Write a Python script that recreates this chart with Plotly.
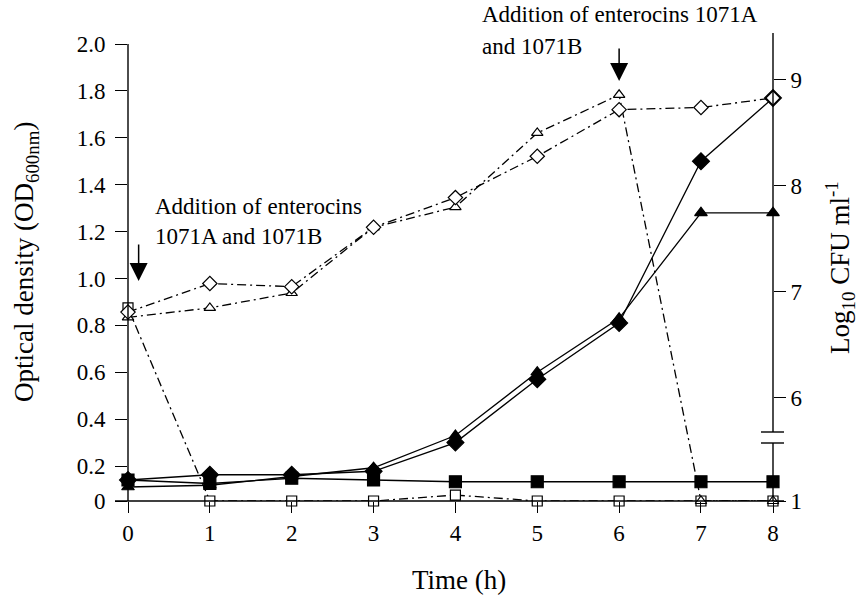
import plotly.graph_objects as go

# ---------------- data ----------------
hours = [0, 1, 2, 3, 4, 5, 6, 7, 8]
x_ticks = [0, 1, 2, 3, 4, 5, 6, 7, 8]

# optical density (left axis, filled symbols, solid lines)
od_control = [0.12, 0.15, 0.15, 0.17, 0.30, 0.57, 0.81, 1.50, 1.77]
od_added_6h = [0.08, 0.09, 0.14, 0.19, 0.33, 0.60, 0.83, 1.28, 1.28]
od_added_0h = [0.12, 0.10, 0.13, 0.12, 0.11, 0.11, 0.11, 0.11, 0.11]

# log10 CFU/ml (right axis, open symbols, dash-dot lines)
cfu_control = [6.81, 7.08, 7.05, 7.61, 7.89, 8.28, 8.72, 8.74, 8.83]
cfu_added_6h = [6.76, 6.85, 6.99, 7.61, 7.80, 8.50, 8.86, 1.0, 1.0]
cfu_added_0h = [6.85, 1.0, 1.0, 1.0, 1.7, 1.0, 1.0, 1.0, 1.0]

od_ticks = [0, 0.2, 0.4, 0.6, 0.8, 1.0, 1.2, 1.4, 1.6, 1.8, 2.0]
od_ticktext = ["0", "0.2", "0.4", "0.6", "0.8", "1.0", "1.2", "1.4", "1.6", "1.8", "2.0"]
cfu_ticks = [1, 6, 7, 8, 9]
cfu_ticktext = ["1", "6", "7", "8", "9"]

# ---------------- broken-axis scales ----------------
OD_ZERO = 0.0507      # where OD 0 sits on the compressed bottom segment
CFU_ONE = 5.028       # where log 1 sits below the axis break


def xpos(t):
    return t if t <= 7 else 7 + (t - 7) * 0.88


def od_pos(v):
    return v if v >= 0.2 else OD_ZERO + v * (0.2 - OD_ZERO) / 0.2


def cfu_pos(v):
    return v if v >= 5.5 else CFU_ONE + (v - 1) * 0.08


FONT = "Liberation Serif"
BLACK = "#000000"

fig = go.Figure()

def add_series(yvals, posf, symbol, filled, dash, yaxis, size):
    fig.add_trace(go.Scatter(
        x=[xpos(t) for t in hours],
        y=[posf(v) for v in yvals],
        mode="lines+markers",
        yaxis=yaxis,
        cliponaxis=False,
        line=dict(color=BLACK, width=1.3, dash=dash),
        marker=dict(symbol=symbol, size=size,
                    color=BLACK if filled else "white",
                    line=dict(color=BLACK, width=1.2)),
        showlegend=False,
    ))

DD = "9px,4px,2px,4px"
# CFU series first (behind)
add_series(cfu_added_0h, cfu_pos, "square", False, DD, "y2", 10)
add_series(cfu_added_6h, cfu_pos, "triangle-up", False, DD, "y2", 10)
add_series(cfu_control, cfu_pos, "diamond", False, DD, "y2", 11)
# OD series
add_series(od_added_0h, od_pos, "square", True, "solid", "y", 12)
add_series(od_added_6h, od_pos, "triangle-up", True, "solid", "y", 11)
add_series(od_control, od_pos, "diamond", True, "solid", "y", 13)

L, R, T, B = 128, 92, 33, 96
W, H = 865, 597
pw, ph = W - L - R, H - T - B


def px_x(px):
    return (px - L) / pw


def px_y(py):
    return (H - B - py) / ph


tick_font = dict(family=FONT, size=23, color=BLACK)

fig.update_layout(
    width=W, height=H,
    margin=dict(l=L, r=R, t=T, b=B),
    paper_bgcolor="white", plot_bgcolor="white",
    font=dict(family=FONT, color=BLACK),
    xaxis=dict(range=[0, xpos(8)], showgrid=False, zeroline=False, showline=False,
               tickvals=[xpos(t) for t in x_ticks], ticktext=[str(t) for t in x_ticks],
               ticks="outside", ticklen=11, tickwidth=1.3, tickcolor=BLACK,
               tickfont=tick_font),
    yaxis=dict(range=[OD_ZERO, 2.047], showgrid=False, zeroline=False, showline=False,
               tickvals=[od_pos(v) for v in od_ticks], ticktext=od_ticktext,
               ticks="outside", ticklen=12, tickwidth=1.3, tickcolor=BLACK,
               ticklabelstandoff=5, tickfont=tick_font),
    yaxis2=dict(range=[CFU_ONE, 9.443], overlaying="y", side="right",
                showgrid=False, zeroline=False, showline=False,
                tickvals=[cfu_pos(v) for v in cfu_ticks], ticktext=cfu_ticktext,
                ticks="outside", ticklen=12, tickwidth=1.3, tickcolor=BLACK,
                tickfont=tick_font),
)

line = dict(color=BLACK, width=1.4)
shapes = [
    # x axis line
    dict(type="line", xref="paper", yref="paper", x0=px_x(115), x1=px_x(784), y0=0, y1=0, line=line),
    # left axis line
    dict(type="line", xref="paper", yref="y", x0=0, x1=0, y0=OD_ZERO, y1=2.0, line=line),
    # right axis line (broken)
    dict(type="line", xref="paper", yref="paper", x0=1, x1=1, y0=0, y1=px_y(443), line=line),
    dict(type="line", xref="paper", yref="paper", x0=1, x1=1, y0=px_y(432), y1=1, line=line),
    dict(type="line", xref="paper", yref="paper", x0=px_x(761), x1=px_x(784),
         y0=px_y(443), y1=px_y(443), line=line),
    dict(type="line", xref="paper", yref="paper", x0=px_x(761), x1=px_x(784),
         y0=px_y(432), y1=px_y(432), line=line),
]
fig.update_layout(shapes=shapes)

ann_font = dict(family=FONT, size=23, color=BLACK)
ann = [
    dict(x=0.13, y=px_y(281), xref="x", yref="paper", text="", showarrow=True,
         ax=0, ay=-38, arrowhead=2, arrowsize=2.4, arrowwidth=1.5, arrowcolor=BLACK),
    dict(x=xpos(6), y=px_y(81), xref="x", yref="paper", text="", showarrow=True,
         ax=0, ay=-34, arrowhead=2, arrowsize=2.4, arrowwidth=1.5, arrowcolor=BLACK),
    dict(x=px_x(153), y=px_y(221), xref="paper", yref="paper", xanchor="left", yanchor="middle",
         align="left", showarrow=False,
         text="Addition of enterocins<br>1071A and 1071B", font=ann_font),
    dict(x=px_x(480), y=px_y(15), xref="paper", yref="paper", xanchor="left", yanchor="middle",
         align="left", showarrow=False, text="Addition of enterocins 1071A", font=ann_font),
    dict(x=px_x(480), y=px_y(46), xref="paper", yref="paper", xanchor="left", yanchor="middle",
         align="left", showarrow=False, text="and 1071B", font=ann_font),
    dict(x=px_x(459), y=px_y(580), xref="paper", yref="paper", xanchor="center", yanchor="middle",
         showarrow=False, text="Time (h)", font=dict(family=FONT, size=27, color=BLACK)),
    dict(x=px_x(26), y=px_y(262), xref="paper", yref="paper", xanchor="center", yanchor="middle",
         showarrow=False, textangle=-90, text="Optical density (OD<sub>600nm</sub>)",
         font=dict(family=FONT, size=27, color=BLACK)),
    dict(x=px_x(840), y=px_y(268), xref="paper", yref="paper", xanchor="center", yanchor="middle",
         showarrow=False, textangle=-90, text="Log<sub>10</sub> CFU ml<sup>-1</sup>",
         font=dict(family=FONT, size=27, color=BLACK)),
]
fig.update_layout(annotations=ann)

fig.write_html("out.html")
